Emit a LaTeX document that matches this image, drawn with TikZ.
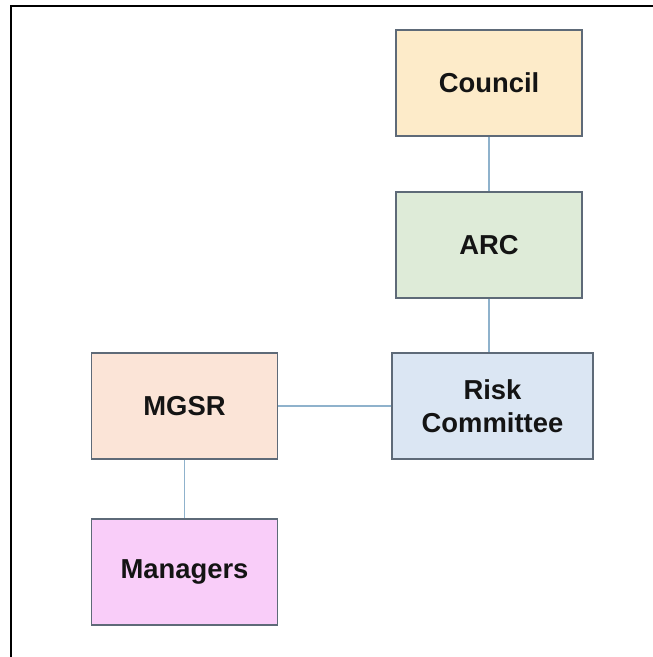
\documentclass[tikz,border=0pt]{standalone}
\usepackage{fontspec}
\setmainfont{Liberation Sans}
\begin{document}
\begin{tikzpicture}[x=1bp,y=-1bp,
  orgbox/.style={draw=boxedge, line width=1.5bp, minimum width=186bp, minimum height=106bp,
    inner sep=0pt, align=center, font=\fontsize{27.5}{33}\selectfont\bfseries, text=black!92},
  link/.style={draw=linkc, line width=1.3bp}]
\definecolor{boxedge}{HTML}{5E6A78}
\definecolor{linkc}{HTML}{8FB2CC}
\definecolor{cyel}{HTML}{FDEBC9}
\definecolor{cgrn}{HTML}{DEEBD8}
\definecolor{cblu}{HTML}{DBE6F3}
\definecolor{cpch}{HTML}{FBE4D7}
\definecolor{cpnk}{HTML}{F9CDF9}
\useasboundingbox (0,0) rectangle (653,657);
\fill[white] (0,0) rectangle (653,657);
\coordinate (tl) at (10.5,6.5);
\coordinate (tr) at (653,6.5);
\coordinate (bl) at (10.5,657);
\draw[line width=2bp] (tr) -- (tl) -- (bl);
\node[orgbox, fill=cyel] (council) at (489,83) {Council};
\node[orgbox, fill=cgrn] (arc) at (489,245) {ARC};
\node[orgbox, fill=cblu, minimum width=201bp] (risk) at (492.5,406) {Risk\\Committee};
\node[orgbox, fill=cpch] (mgsr) at (184.5,406) {MGSR};
\node[orgbox, fill=cpnk] (mgr) at (184.5,572) {Managers};
\draw[link] (council.south) -- (arc.north);
\draw[link] (arc.south) -- (arc.south |- risk.north);
\draw[link] (risk.west) -- (mgsr.east);
\draw[link] (mgsr.south) -- (mgr.north);
\end{tikzpicture}
\end{document}
